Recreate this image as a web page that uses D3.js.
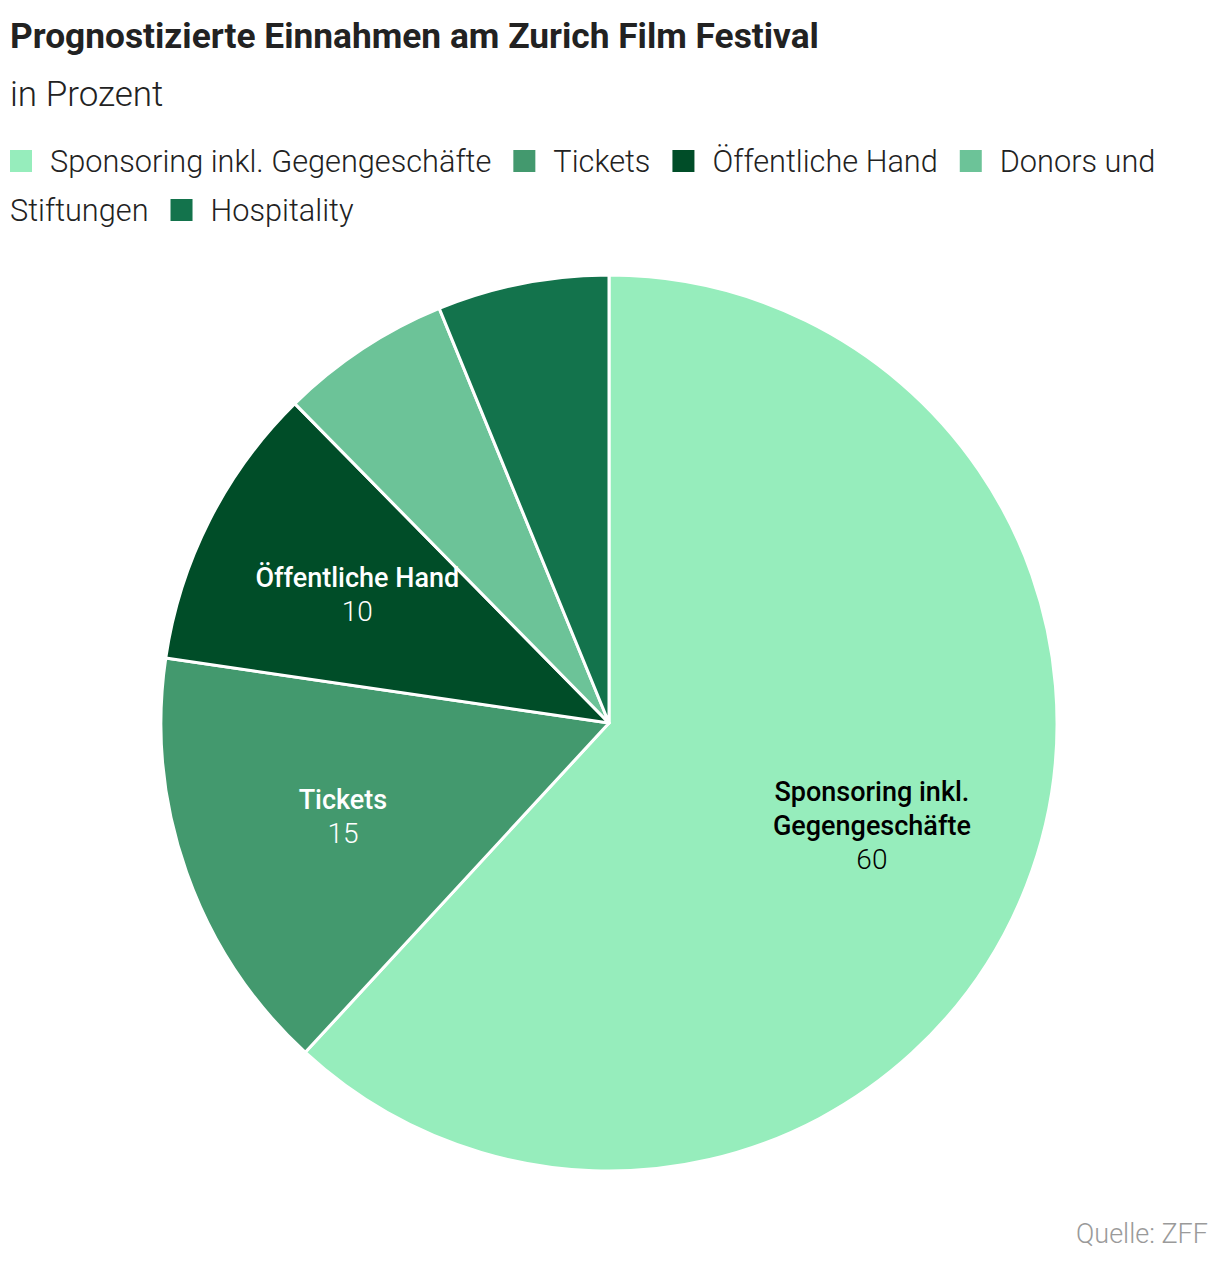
<!DOCTYPE html>
<html>
<head>
<meta charset="utf-8">
<script src="https://cdn.jsdelivr.net/npm/d3@7"></script>
<style>
  body { margin: 0; background: #fff; }
  #chart { width: 1220px; height: 1264px; }
</style>
</head>
<body>
<div id="chart"></div>
<script>
/**
 * Start revenue pie
 *  */

var categories = ["Sponsoring inkl. Gegengeschäfte", "Tickets", "Öffentliche Hand", "Donors und Stiftungen", "Hospitality"];
var values = [60, 15, 10, 6, 6];
var colors = ["#96edbc", "#43996e", "#004d28", "#6cc398", "#13734c"];
var labelColors = ["#000000", "#ffffff", "#ffffff", null, null];
var labelLines = [["Sponsoring inkl.", "Gegengeschäfte"], ["Tickets"], ["Öffentliche Hand"], null, null];

var dataPie = categories.map(function (c, i) {
    return { name: c, value: values[i] };
});

drawPie(dataPie);

function drawPie(dataPie) {
    var width = 1220,
        height = 1264,
        font = "Roboto, 'Noto Sans', sans-serif";

    var svg = d3.select("#chart").append("svg")
        .attr("width", width)
        .attr("height", height);

    svg.append("text")
        .attr("x", 10)
        .attr("y", 48)
        .attr("font-family", font)
        .attr("font-weight", 700)
        .attr("font-size", "35.3px")
        .attr("fill", "#222")
        .text("Prognostizierte Einnahmen am Zurich Film Festival");

    svg.append("text")
        .attr("x", 10)
        .attr("y", 106)
        .attr("font-family", font)
        .attr("font-weight", 300)
        .attr("font-size", "35px")
        .attr("fill", "#222")
        .text("in Prozent");

    // legend, wrapped word by word like the original
    var legend = svg.append("g").attr("class", "legend");
    var lx = 10, ly = 172, maxX = 1205, lineH = 49, box = 22;
    var color = d3.scaleOrdinal().domain(categories).range(colors);

    categories.forEach(function (c) {
        if (lx + box > maxX) { lx = 10; ly += lineH; }
        legend.append("rect")
            .attr("x", lx)
            .attr("y", ly - 22)
            .attr("width", box)
            .attr("height", box)
            .attr("fill", color(c));
        lx += box + 18;
        c.split(" ").forEach(function (word, wi) {
            var t = legend.append("text")
                .attr("font-family", font)
                .attr("font-weight", 300)
                .attr("font-size", "30.7px")
                .attr("fill", "#222")
                .attr("xml:space", "preserve")
                .text((wi > 0 ? " " : "") + word);
            var w = t.node().getComputedTextLength();
            if (lx + w > maxX) {
                lx = 10; ly += lineH;
                t.text(word);
                w = t.node().getComputedTextLength();
            }
            t.attr("x", lx).attr("y", ly);
            lx += w;
        });
        lx += 22;
    });

    var cx = 609, cy = 723, radius = 448;

    var pie = d3.pie()
        .sort(null)
        .value(function (d) { return d.value; });

    var arc = d3.arc().innerRadius(0).outerRadius(radius);
    var labelArc = d3.arc().innerRadius(radius * 0.63).outerRadius(radius * 0.63);

    var g = svg.append("g")
        .attr("transform", "translate(" + cx + "," + cy + ")");

    var arcs = pie(dataPie);

    g.selectAll(".slice")
        .data(arcs)
        .enter().append("path")
        .attr("class", "slice")
        .attr("d", arc)
        .attr("fill", function (d) { return color(d.data.name); })
        .attr("stroke", "#fff")
        .attr("stroke-width", 3)
        .attr("stroke-linejoin", "round");

    var labels = g.selectAll(".label")
        .data(arcs.filter(function (d, i) { return labelLines[i]; }))
        .enter().append("text")
        .attr("class", "label")
        .attr("text-anchor", "middle")
        .attr("font-family", font)
        .attr("font-size", "27px")
        .attr("transform", function (d) {
            var c = labelArc.centroid(d);
            return "translate(" + c[0] + "," + c[1] + ")";
        })
        .attr("fill", function (d) { return labelColors[d.index]; });

    labels.each(function (d) {
        var lines = labelLines[d.index];
        var n = lines.length + 1;
        var t = d3.select(this);
        var y0 = -(n - 1) * 34 / 2 + 9;
        lines.forEach(function (l, k) {
            t.append("tspan")
                .attr("x", 0)
                .attr("y", y0 + k * 34)
                .attr("font-weight", 500)
                .text(l);
        });
        t.append("tspan")
            .attr("x", 0)
            .attr("y", y0 + lines.length * 34)
            .attr("font-weight", 300)
            .attr("font-size", "28px")
            .text(d.data.value);
    });

    svg.append("text")
        .attr("x", 1208)
        .attr("y", 1243)
        .attr("text-anchor", "end")
        .attr("font-family", font)
        .attr("font-weight", 300)
        .attr("font-size", "27px")
        .attr("fill", "#9a9a9a")
        .text("Quelle: ZFF");
}

/**
 * End revenue pie
 *  */
</script>
</body>
</html>
